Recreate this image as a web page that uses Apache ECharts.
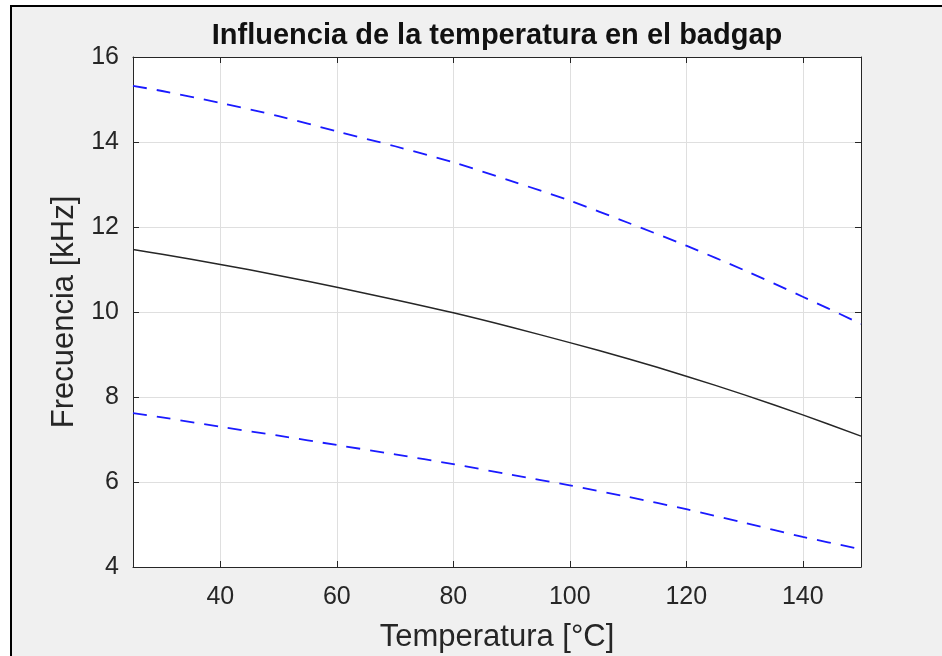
<!DOCTYPE html>
<html>
<head>
<meta charset="utf-8">
<script src="https://cdn.jsdelivr.net/npm/echarts@6/dist/echarts.min.js"></script>
<style>html,body{margin:0;padding:0;background:#fff}#c{width:942px;height:656px}</style>
</head>
<body>
<div id="c"></div>
<script>
const temps = [25, 30, 40, 50, 60, 70, 80, 90, 100, 110, 120, 130, 140, 150];
const freqUpper = [15.32, 15.2, 14.92, 14.61, 14.25, 13.9, 13.52, 13.08, 12.62, 12.1, 11.56, 10.98, 10.36, 9.72];
const freqMain = [11.47, 11.36, 11.12, 10.86, 10.58, 10.29, 9.98, 9.64, 9.28, 8.9, 8.49, 8.05, 7.58, 7.08];
const freqLower = [7.62, 7.52, 7.3, 7.09, 6.87, 6.65, 6.42, 6.17, 5.92, 5.65, 5.36, 5.04, 4.71, 4.42];
const xTicks = [40, 60, 80, 100, 120, 140];
const yTicks = [4, 6, 8, 10, 12, 14, 16];

const FONT = 'Liberation Sans, Arial, sans-serif';
const TXT = '#262626';
function pairs(xs, ys) { return xs.map((x, i) => [x, ys[i]]); }

const chart = echarts.init(document.getElementById('c'));
const baseX = {
  type: 'value', min: 25, max: 150,
  axisLine: { show: true, lineStyle: { color: TXT, width: 1 } },
  axisTick: { show: true, inside: true, length: 6, customValues: xTicks, lineStyle: { color: TXT } },
  axisLabel: { customValues: xTicks, color: TXT, fontSize: 25, fontFamily: FONT, margin: 18 },
  splitLine: { show: true, lineStyle: { color: '#dfdfdf', width: 1 } }
};
const baseY = {
  type: 'value', min: 4, max: 16, interval: 2,
  axisLine: { show: true, lineStyle: { color: TXT, width: 1 } },
  axisTick: { show: true, inside: true, length: 6, lineStyle: { color: TXT } },
  axisLabel: { color: TXT, fontSize: 25, fontFamily: FONT, margin: 14 },
  splitLine: { show: true, lineStyle: { color: '#dfdfdf', width: 1 } }
};
chart.setOption({
  animation: false,
  backgroundColor: '#ffffff',
  graphic: [{
    type: 'rect', z: -10, silent: true,
    shape: { x: 11, y: 6, width: 960, height: 700 },
    style: { fill: '#f0f0f0', stroke: '#000000', lineWidth: 2 }
  }],
  title: {
    text: 'Influencia de la temperatura en el badgap',
    left: 492, textAlign: 'center', top: 16,
    textStyle: { fontFamily: FONT, fontSize: 29, fontWeight: 'bold', color: '#111111' }
  },
  grid: { left: 133, top: 57, right: 81, bottom: 89, show: true, backgroundColor: '#ffffff', borderWidth: 0,
          containLabel: false, outerBoundsMode: 'none' },
  xAxis: [
    Object.assign({}, baseX, {
      position: 'bottom',
      name: 'Temperatura [°C]', nameLocation: 'middle', nameGap: 55,
      nameTextStyle: { color: TXT, fontSize: 31, fontFamily: FONT }
    }),
    Object.assign({}, baseX, { position: 'top', axisLabel: { show: false }, splitLine: { show: false } })
  ],
  yAxis: [
    Object.assign({}, baseY, {
      position: 'left',
      name: 'Frecuencia [kHz]', nameLocation: 'middle', nameGap: 50, nameRotate: 90,
      nameTextStyle: { color: TXT, fontSize: 31, fontFamily: FONT }
    }),
    Object.assign({}, baseY, { position: 'right', axisLabel: { show: false }, splitLine: { show: false } })
  ],
  series: [
    { type: 'line', data: pairs(temps, freqUpper), smooth: 0.3, symbol: 'none',
      lineStyle: { color: '#1a1aff', width: 1.8, type: [14, 10] } },
    { type: 'line', data: pairs(temps, freqMain), smooth: 0.3, symbol: 'none',
      lineStyle: { color: '#262626', width: 1.5 } },
    { type: 'line', data: pairs(temps, freqLower), smooth: 0.3, symbol: 'none',
      lineStyle: { color: '#1a1aff', width: 1.8, type: [14, 10] } }
  ]
});
</script>
</body>
</html>
